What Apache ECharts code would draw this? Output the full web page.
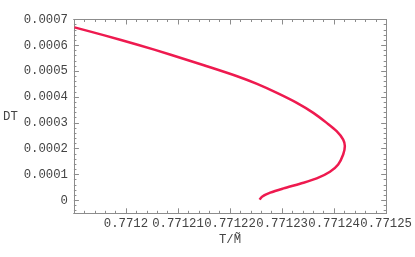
<!DOCTYPE html>
<html><head><meta charset="utf-8">
<script src="https://cdn.jsdelivr.net/npm/echarts@6/dist/echarts.min.js"></script>
<style>html,body{margin:0;padding:0;background:#fff}#c{width:415px;height:257px}</style>
</head><body><div id="c"></div>
<script>
// T/M~ values (x) and DT values (y)
const tValues = [0.77119011, 0.77119585, 0.77120224, 0.7712086, 0.77121497, 0.77122136, 0.77122518, 0.77122901, 0.77123283, 0.771236, 0.77123857, 0.77124048, 0.77124174, 0.77124206, 0.77124174, 0.77124078, 0.7712392, 0.77123665, 0.77123346, 0.77123027, 0.77122772, 0.77122614, 0.77122568];
const dtValues = [0.0006695, 0.0006386, 0.0006023, 0.0005637, 0.0005228, 0.0004803, 0.0004506, 0.0004158, 0.0003772, 0.0003386, 0.0003, 0.000268, 0.0002355, 0.00021, 0.0001776, 0.000139, 0.0001108, 0.0000849, 0.0000645, 0.0000463, 0.0000297, 0.0000143, 0.0000027];
const xTicks = [0.7712, 0.77121, 0.77122, 0.77123, 0.77124, 0.77125];
const yTicks = [0, 0.0001, 0.0002, 0.0003, 0.0004, 0.0005, 0.0006, 0.0007];

const xMin = 0.77119, xMax = 0.77125, yMin = -0.00005, yMax = 0.0007;
const xMinor = [], yMinor = [];
for (let i = 0; i <= 30; i++) xMinor.push(+(xMin + i * 0.000002).toFixed(7));
for (let i = -2; i <= 35; i++) yMinor.push(+(i * 0.00002).toFixed(6));

const font = 'Liberation Mono';
const fs = 12.3;
const frame = '#8c8c8c';
const txt = '#444';
const data = tValues.map((t, i) => [t, dtValues[i]]);

function xAx(pos, labels, ticks, len, name) {
  return {
    type: 'value', position: pos, min: xMin, max: xMax, scale: true,
    name: name || '', nameLocation: 'middle', nameGap: 17,
    nameTextStyle: {fontFamily: font, fontSize: fs, color: txt, verticalAlign: 'top'},
    axisLine: {show: true, onZero: false, lineStyle: {color: frame, width: 1}},
    axisTick: {show: true, inside: true, length: len, customValues: ticks, lineStyle: {color: frame}},
    axisLabel: {show: labels, customValues: xTicks, margin: 4, fontFamily: font, fontSize: fs, color: txt,
      formatter: v => parseFloat(v.toFixed(5)).toString()},
    splitLine: {show: false}
  };
}
function yAx(pos, labels, ticks, len, name) {
  return {
    type: 'value', position: pos, min: yMin, max: yMax,
    name: name || '', nameLocation: 'middle', nameRotate: 0, nameGap: 56,
    nameTextStyle: {fontFamily: font, fontSize: fs, color: txt},
    axisLine: {show: true, onZero: false, lineStyle: {color: frame, width: 1}},
    axisTick: {show: true, inside: true, length: len, customValues: ticks, lineStyle: {color: frame}},
    axisLabel: {show: labels, customValues: yTicks, margin: 6, fontFamily: font, fontSize: fs, color: txt,
      formatter: v => parseFloat(v.toFixed(4)).toString()},
    splitLine: {show: false}
  };
}

const chart = echarts.init(document.getElementById('c'), null, {renderer: 'canvas'});
chart.setOption({
  animation: false,
  grid: {left: 73, right: 28.5, top: 19.5, bottom: 43.7, containLabel: false},
  xAxis: [
    xAx('bottom', true, xTicks, 5, 'T/M\u0303'),
    xAx('bottom', false, xMinor, 2.5),
    xAx('top', false, xTicks, 5),
    xAx('top', false, xMinor, 2.5)
  ],
  yAxis: [
    yAx('left', true, yTicks, 5, 'DT'),
    yAx('left', false, yMinor, 2.5),
    yAx('right', false, yTicks, 5),
    yAx('right', false, yMinor, 2.5)
  ],
  series: [{
    type: 'line', data: data, xAxisIndex: 0, yAxisIndex: 0,
    showSymbol: false, smooth: 0.3,
    lineStyle: {color: '#ee1a4f', width: 2.5},
    clip: true
  }]
});
</script></body></html>
